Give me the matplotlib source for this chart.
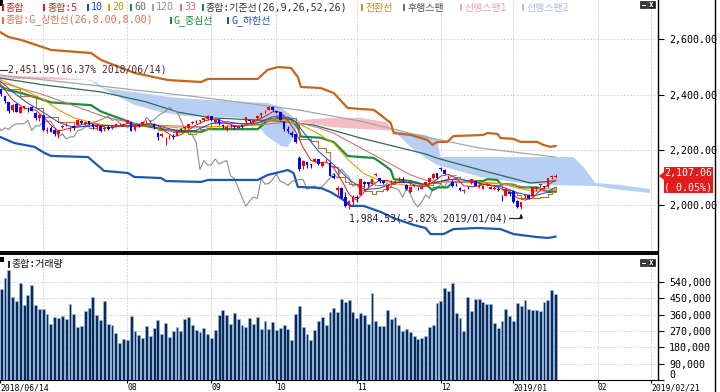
import numpy as np
import matplotlib.pyplot as plt
from matplotlib.patches import Rectangle, Polygon
from matplotlib.ticker import FuncFormatter

plt.rcParams['font.family'] = ['DejaVu Sans Mono', 'Noto Sans CJK KR']

# ---- daily bars 2018/06/14 .. 2019/01/17 (KOSPI) ----
opens = [2451, 2421, 2395, 2373, 2345, 2367, 2335, 2350, 2352, 2355, 2333, 2315,
         2325, 2270, 2279, 2271, 2257, 2282, 2290, 2275, 2285, 2290, 2306, 2295, 2304, 2292, 2282, 2286, 2275, 2283, 2281, 2289, 2293, 2288,
         2298, 2300, 2273, 2290, 2292, 2303, 2305, 2293, 2260, 2252, 2238, 2245, 2249, 2250, 2275, 2279, 2281, 2298, 2306, 2303, 2307, 2311,
         2322, 2302, 2309, 2289, 2277, 2286, 2288, 2278, 2290, 2300, 2309, 2301, 2314, 2326, 2337, 2344, 2356,
         2342, 2337, 2300, 2277, 2260, 2258, 2171, 2141, 2156, 2149, 2158, 2168, 2140, 2160, 2153, 2106, 2054, 2062, 2030, 2005, 2012,
         2031, 2037, 2084, 2083, 2078, 2110, 2097, 2086, 2054, 2086, 2080, 2093, 2096, 2072, 2048, 2070, 2060, 2060, 2073, 2084, 2098, 2117,
         2136, 2128, 2100, 2085, 2076, 2063, 2052, 2063, 2080, 2086, 2067, 2058, 2075, 2060, 2060, 2058, 2030, 2033, 2046,
         2050, 2013, 1993, 2034, 2037, 2034, 2060, 2072, 2068, 2065, 2100, 2101]
highs = [2451.95, 2425, 2397, 2374, 2366, 2369, 2360, 2360, 2356, 2358, 2337, 2330,
         2326, 2283, 2287, 2275, 2273, 2289, 2296, 2283, 2290, 2312, 2307, 2302, 2306, 2295, 2293, 2287, 2285, 2289, 2291, 2298, 2297, 2298,
         2310, 2302, 2290, 2294, 2305, 2308, 2308, 2296, 2266, 2262, 2246, 2253, 2256, 2272, 2280, 2285, 2295, 2303, 2310, 2309, 2316, 2325,
         2324, 2313, 2312, 2295, 2290, 2292, 2290, 2290, 2291, 2320, 2310, 2311, 2326, 2333, 2344, 2358, 2358,
         2346, 2338, 2305, 2286, 2268, 2262, 2178, 2164, 2157, 2150, 2172, 2168, 2157, 2168, 2155, 2117, 2069, 2066, 2048, 2017, 2036,
         2035, 2096, 2087, 2084, 2095, 2117, 2097, 2092, 2073, 2090, 2092, 2100, 2100, 2075, 2067, 2073, 2067, 2070, 2084, 2098, 2115, 2118,
         2137, 2130, 2110, 2090, 2080, 2065, 2060, 2068, 2096, 2088, 2075, 2072, 2080, 2068, 2068, 2064, 2037, 2061, 2047,
         2054, 2017, 2011, 2040, 2040, 2064, 2065, 2076, 2070, 2097, 2108, 2111]
lows = [2419, 2397, 2370, 2335, 2337, 2336, 2333, 2347, 2339, 2340, 2310, 2305,
        2270, 2262, 2264, 2252, 2244, 2278, 2285, 2270, 2273, 2289, 2295, 2290, 2290, 2276, 2272, 2265, 2268, 2271, 2276, 2285, 2286, 2285,
        2297, 2269, 2270, 2284, 2290, 2297, 2300, 2277, 2234, 2246, 2218, 2240, 2240, 2249, 2268, 2275, 2280, 2295, 2299, 2297, 2305, 2309,
        2306, 2297, 2290, 2281, 2270, 2278, 2275, 2274, 2279, 2298, 2298, 2299, 2310, 2318, 2334, 2343, 2340,
        2332, 2308, 2270, 2261, 2248, 2224, 2123, 2131, 2136, 2134, 2155, 2145, 2138, 2155, 2104, 2096, 2033, 2025, 1994, 1986, 2000,
        2010, 2036, 2066, 2068, 2074, 2105, 2080, 2077, 2052, 2080, 2075, 2086, 2084, 2055, 2045, 2064, 2055, 2058, 2071, 2080, 2094, 2096,
        2122, 2111, 2095, 2064, 2068, 2050, 2045, 2058, 2078, 2068, 2063, 2057, 2068, 2057, 2055, 2050, 2013, 2032, 2033,
        2007, 1991, 1984.53, 2026, 2023, 2033, 2052, 2064, 2061, 2064, 2095, 2098]
closes = [2423, 2404, 2376, 2340, 2363, 2337, 2357, 2358, 2350, 2342, 2314, 2326,
          2272, 2272, 2265, 2257, 2272, 2285, 2294, 2280, 2280, 2310, 2298, 2300, 2294, 2283, 2289, 2270, 2280, 2274, 2289, 2294, 2294, 2295,
          2307, 2270, 2287, 2287, 2301, 2303, 2304, 2282, 2248, 2258, 2240, 2247, 2247, 2270, 2273, 2283, 2293, 2300, 2303, 2309, 2315, 2322,
          2307, 2310, 2297, 2287, 2282, 2287, 2282, 2286, 2286, 2318, 2303, 2309, 2323, 2332, 2339, 2355, 2343,
          2338, 2309, 2274, 2267, 2253, 2228, 2129, 2161, 2145, 2146, 2167, 2148, 2156, 2161, 2106, 2097, 2063, 2027, 1996, 2014, 2029,
          2024, 2096, 2076, 2078, 2093, 2113, 2086, 2081, 2071, 2086, 2088, 2093, 2092, 2057, 2065, 2070, 2057, 2067, 2083, 2098, 2114, 2097,
          2131, 2114, 2101, 2068, 2075, 2053, 2052, 2062, 2095, 2070, 2071, 2070, 2078, 2066, 2061, 2055, 2028, 2060, 2041,
          2010, 1993, 2011, 2037, 2025, 2064, 2063, 2075, 2064, 2097, 2106, 2107.06]
volume_k = [520,
            504, 563, 604, 458, 436, 537, 415, 471, 522, 415, 393, 393, 365, 310, 347, 343, 351, 338, 421, 365,
            292, 297, 378, 397, 458, 356, 332, 436, 308, 301, 260, 205, 227, 223, 353, 271, 249, 233, 297, 245,
            288, 332, 255, 312, 236, 270, 292, 270, 338, 347, 306, 277, 264, 286, 255, 231, 277, 360, 384, 360,
            310, 371, 338, 305, 292, 342, 308, 347, 282, 325, 279, 320, 277, 286, 306, 279, 218, 365, 408, 294,
            255, 223, 277, 323, 349, 306, 375, 399, 375, 445, 430, 439, 375, 343, 369,
            360, 310, 482, 328, 297, 297, 384, 338, 347, 301, 270, 282, 264, 240, 227, 234, 240, 295, 306, 426,
            436, 508, 493, 537, 369, 343, 270, 456, 380, 447, 447, 430, 419, 419, 312, 288, 323, 393, 354, 328,
            426, 408, 439, 393, 384, 384, 378, 430, 441, 498, 476]

# ---- indicator lines (vertices, x in bars from 2018/07/02) ----
ma5_t = [-11.3, -8, -5, -2] + list(range(0, 135, 2))
ma5 = [2440, 2381, 2351, 2344,
       2321, 2290, 2268, 2275, 2282, 2292, 2296, 2293, 2283, 2280, 2286, 2296, 2291, 2290, 2296, 2288, 2266, 2248,
       2255, 2273, 2290, 2304, 2311, 2310, 2297, 2287, 2285, 2295, 2308, 2321, 2338, 2337, 2306, 2266, 2208, 2162,
       2153, 2156, 2134, 2091, 2039, 2018, 2048, 2073, 2089, 2089, 2082, 2086, 2079, 2068, 2068, 2084, 2105, 2111,
       2098, 2070, 2067, 2070, 2077, 2069, 2058, 2049, 2026, 2018, 2026, 2053, 2073, 2090]
ma10_t = [-11.3, -8, -4, 0, 4, 8, 12, 16, 20, 24, 28, 32, 36, 40, 44, 48, 52, 56, 60, 64, 66, 68, 72, 76,
          80, 84, 88, 92, 96, 100, 104, 108, 112, 116, 120, 124, 128, 132, 134]
ma10 = [2450, 2410, 2369, 2336, 2300, 2281, 2287, 2289, 2287, 2287, 2295, 2280, 2266, 2271, 2296, 2302, 2294,
        2297, 2320, 2318, 2302, 2265, 2195, 2146, 2092, 2056, 2061, 2082, 2082, 2075, 2086, 2096, 2086, 2073,
        2066, 2045, 2032, 2047, 2065]
ma20_t = [-11.3, -4, 0, 4, 8, 12, 16, 20, 24, 28, 32, 36, 40, 44, 48, 52, 56, 60, 64, 68, 72, 76, 80, 84,
          88, 92, 96, 100, 104, 108, 112, 116, 120, 124, 128, 132, 134]
ma20 = [2455, 2410, 2383, 2345, 2316, 2302, 2290, 2286, 2288, 2291, 2284, 2279, 2280, 2285, 2285, 2289, 2298,
        2309, 2307, 2287, 2258, 2224, 2161, 2113, 2090, 2078, 2070, 2073, 2084, 2087, 2083, 2082, 2078, 2062,
        2051, 2051, 2055]
ma33_t = [-11.3, 0, 8, 16, 24, 32, 40, 48, 56, 64, 68, 72, 76, 80, 84, 88, 92, 96, 100, 104, 110, 116, 122, 128, 134]
ma33 = [2445, 2400, 2360, 2320, 2295, 2288, 2284, 2284, 2290, 2300, 2295, 2280, 2260, 2230, 2200, 2170, 2140,
        2110, 2090, 2084, 2082, 2080, 2075, 2060, 2058]
ma60_t = [-11.3, 0.3, 15.1, 26.9, 35.2, 43.9, 60.8, 70.8, 83, 100, 103, 114.4, 127.4, 134]
ma60 = [2460, 2435, 2410, 2374, 2337, 2316, 2305, 2290, 2243, 2185, 2170, 2127, 2080, 2088]
ma120_t = [-11.3, 15, 41, 67, 83, 99, 114, 134]
ma120 = [2471, 2431, 2391, 2344, 2304, 2250, 2207, 2174]
tenkan_t = [-11.3, -6, -2, 0, 4, 8, 12, 14, 18, 22, 26, 30, 34, 38, 40, 41, 44, 48, 52, 54, 57, 59, 61, 63, 66,
            67, 70, 72, 74, 75, 76, 77, 79, 80, 83, 84, 86, 87, 89, 90, 91, 92, 96, 102, 104, 105, 108, 109, 110,
            113, 114, 116, 119, 120, 122, 123, 124, 125, 129, 130, 132, 133, 134]
tenkan = [2420, 2395, 2353, 2320, 2301, 2285, 2278, 2291, 2286, 2288, 2290, 2272, 2263, 2257, 2264, 2275, 2297,
          2298, 2297, 2295, 2304, 2316, 2328, 2314, 2291, 2241, 2231, 2205, 2193, 2141, 2137, 2103, 2083, 2077,
          2070, 2051, 2041, 2051, 2059, 2064, 2077, 2085, 2073, 2081, 2091, 2096, 2100, 2093, 2091, 2088, 2078,
          2071, 2073, 2055, 2047, 2044, 2036, 2026, 2025, 2030, 2041, 2046, 2067]
env_t = [-11.3, -9.1, -5.7, 2.1, 12.5, 15.1, 23.8, 32.6, 41.3, 43.1, 56.1, 58.7, 61.4, 64.8, 66.6, 67.4, 72.6,
         76, 79.6, 83, 86.4, 88.3, 90.9, 91.7, 96.1, 100.5, 101.8, 103.1, 105.7, 107.3, 115.1, 116.2, 118.8,
         119.6, 123, 124.8, 129.2, 130.8, 132.6, 134]
env_upper = [2627, 2609, 2598, 2562, 2551, 2526, 2479, 2453, 2446, 2457, 2457, 2490, 2500, 2497, 2464, 2428,
             2424, 2406, 2352, 2348, 2345, 2326, 2297, 2261, 2254, 2236, 2218, 2229, 2229, 2250, 2254, 2261,
             2258, 2243, 2240, 2229, 2229, 2218, 2211, 2214]
env_mid = [2432, 2416, 2406, 2372, 2362, 2339, 2295, 2271, 2265, 2275, 2275, 2306, 2315, 2312, 2281, 2248,
           2244, 2228, 2178, 2174, 2171, 2154, 2127, 2094, 2087, 2070, 2054, 2064, 2064, 2083, 2087, 2094,
           2091, 2077, 2074, 2064, 2064, 2054, 2047, 2050]
low_t = [-11.3, -7.6, -2.3, 0.3, 2.1, 11.7, 15.1, 15.9, 22.2, 23.8, 30.8, 32.1, 41.3, 43.1, 56.1, 58.7, 64,
         65.5, 66.6, 72.6, 75.2, 78.6, 80.4, 83.8, 88.3, 91.6, 96.9, 100, 101.3, 104.7, 107.3, 113.6, 119.6,
         123, 129.2, 131.9, 133.4, 134]
env_lower = [2247, 2225, 2211, 2189, 2178, 2174, 2134, 2124, 2116, 2102, 2098, 2087, 2084, 2091, 2091, 2109,
             2127, 2116, 2066, 2062, 2047, 2018, 1997, 1997, 1975, 1953, 1928, 1917, 1895, 1895, 1913, 1917,
             1913, 1895, 1884, 1881, 1884, 1886]
cloud_t = [-11.3, 2, 11, 12.5, 14.4, 15.1, 15.9, 17.8, 23.8, 30.8, 32.6, 36.8, 43.1, 51.7, 55.6, 58.2, 58.7,
           62.1, 64, 64.8, 65.5, 67.4, 75.2, 83, 89.6, 91.6, 96.1, 100, 103.1, 103.9, 114.4, 124.8, 133.4,
           138.6, 141.3, 144.4, 150.9, 158.7]
span1 = [2468, 2464, 2454, 2450, 2432, 2426, 2420, 2406, 2363, 2337, 2333, 2323, 2320, 2316, 2297, 2254, 2248,
         2214, 2211, 2232, 2254, 2308, 2316, 2316, 2301, 2269, 2211, 2171, 2145, 2142, 2102, 2080, 2073, 2071,
         2070, 2069, 2055, 2044]
span2 = [2457, 2455, 2453, 2453, 2440, 2432, 2424, 2420, 2410, 2396, 2392, 2387, 2381, 2375, 2372, 2370, 2370,
         2355, 2335, 2326, 2318, 2301, 2283, 2276, 2271, 2269, 2261, 2254, 2236, 2174, 2174, 2174, 2174, 2174,
         2138, 2080, 2073, 2058]

month_pos = [0, 22, 44, 61, 82, 104, 123, 145, 159]
tick_pos = [-11.2, 22, 44, 61, 82, 104, 123, 145, 159]
tick_lbl = ['2018/06/14', '08', '09', '10', '11', '12', '2019/01', '02', '2019/02/21']

W, H = 720, 392
def fx(px):
    return px / W
def fy(py):
    return 1 - py / H

t = np.arange(-12, 135)
o = np.array(opens); c = np.array(closes); hi = np.array(highs); lo = np.array(lows)

fig = plt.figure(figsize=(7.2, 3.92), dpi=100)
ax = fig.add_axes([0, fy(252), fx(658), 252 / H])
axv = fig.add_axes([0, fy(380), fx(658), (380 - 254) / H])

grid_kw = dict(color='#C8C8C8', lw=0.6, ls=(0, (2, 2)), zorder=0)
for m in month_pos:
    ax.axvline(m, **grid_kw)
    axv.axvline(m, **grid_kw)
for p in [2000, 2200, 2400, 2600]:
    ax.axhline(p, **grid_kw)
for v in range(90000, 540001, 90000):
    axv.axhline(v, **grid_kw)

# ichimoku cloud
s1 = np.array(span1); s2 = np.array(span2)
ax.fill_between(cloud_t, s1, s2, where=s1 >= s2, interpolate=True, color='#F6BCC4', lw=0, zorder=1)
ax.fill_between(cloud_t, s1, s2, where=s1 < s2, interpolate=True, color='#B7CFF3', lw=0, zorder=1)

# lines
ax.plot(ma120_t, ma120, color='#A6A6A6', lw=0.9, zorder=2)
ax.plot(ma60_t, ma60, color='#2F6A55', lw=0.9, zorder=2)
ax.plot(t[:-26], closes[26:], color='#8C8C8C', lw=0.8, zorder=2)
ax.plot(env_t, env_upper, color='#C8641E', lw=1.6, zorder=3)
ax.plot(low_t, env_lower, color='#1F56B0', lw=1.6, zorder=3)
ax.plot(env_t, env_mid, color='#1E8C3C', lw=1.6, zorder=3)
ax.plot(ma33_t, ma33, color='#C87878', lw=0.8, zorder=4)
ax.plot(ma20_t, ma20, color='#E0A000', lw=0.8, zorder=4)
ax.plot(tenkan_t, tenkan, color='#B07A20', lw=0.8, drawstyle='steps-post', zorder=4)
ax.plot(ma10_t, ma10, color='#2040D0', lw=0.7, zorder=4)
ax.plot(ma5_t, ma5, color='#D02020', lw=0.7, zorder=4)

# candles
col = np.where(c >= o, '#FF0000', '#0000FF')
ax.vlines(t, lo, hi, colors=col, lw=0.8, zorder=6)
ax.bar(t, np.maximum(np.abs(c - o), 1.5), bottom=np.minimum(o, c), width=0.7, color=col, lw=0, zorder=7)

ax.set_xlim(-11.3, 160.8)
ax.set_ylim(1830, 2743)
ax.set_yticks([2000, 2200, 2400, 2600])
ax.yaxis.set_major_formatter(FuncFormatter(lambda v, p: '{:,.2f}'.format(v)))
ax.yaxis.tick_right()
ax.tick_params(axis='y', direction='out', length=4, pad=4, labelsize=7.2)
ax.tick_params(axis='x', bottom=False, labelbottom=False)
for s in ['left', 'top']:
    ax.spines[s].set_visible(False)
ax.spines['right'].set_linewidth(1.0)
ax.spines['bottom'].set_linewidth(1.4)

# annotations
ax.plot([-11.3, -9.5], [2490, 2490], color='#3A2A2A', lw=0.8, zorder=8)
ax.text(-9.2, 2490, '2,451.95(16.37% 2018/06/14)', fontsize=7, color='#4A2A2A', va='center', ha='left', zorder=8)
ax.text(121.6, 1953, '1,984.53(-5.82% 2019/01/04)', fontsize=7, color='#1A1A3A', va='center', ha='right', zorder=8)
ax.plot([121.9, 125], [1953, 1953], color='#1A1A3A', lw=0.8, zorder=8)
ax.annotate('', xy=(125, 1978), xytext=(125, 1953),
            arrowprops=dict(arrowstyle='-|>', color='#1A1A3A', lw=0.8, mutation_scale=5), zorder=8)

# volume
axv.bar(t, np.array(volume_k) * 1000, width=0.75, color='#0B2A58', edgecolor='#9CC2EC', lw=0.4, zorder=3)
axv.set_xlim(-11.3, 160.8)
axv.set_ylim(0, 695000)
axv.set_yticks(list(range(0, 540001, 90000)))
axv.yaxis.set_major_formatter(FuncFormatter(lambda v, p: '{:,.0f}'.format(v)))
axv.yaxis.tick_right()
axv.tick_params(axis='y', direction='out', length=4, pad=4, labelsize=7.2)
axv.get_yticklabels()[0].set_va('bottom')
axv.set_xticks(tick_pos)
axv.set_xticklabels(tick_lbl, ha='left')
axv.tick_params(axis='x', direction='out', length=2, pad=0.5, labelsize=5.8)
axv.spines['left'].set_visible(False)
axv.spines['top'].set_linewidth(1.4)
axv.spines['right'].set_linewidth(1.0)
axv.spines['bottom'].set_linewidth(0.8)

# legends (top of each panel)
def sq(x, y, color, w=2.4, h=7):
    fig.add_artist(Rectangle((fx(x), fy(y + h / 2)), w / W, h / H, transform=fig.transFigure,
                             color=color, lw=0, zorder=10))

def label(x, y, txt, color):
    fig.text(fx(x), fy(y), txt, fontsize=7.2, color=color, va='center', ha='left', zorder=10)

legend1 = [(1.5, '종합', '#C02020', '#B02020'), (43, '종합:5', '#C02020', '#D02020'),
           (87, '10', '#2040D0', '#2040D0'), (108, '20', '#C89000', '#E0A000'),
           (130, '60', '#4F7A66', '#1E8C3C'), (152, '120', '#909090', '#A6A6A6'),
           (180, '33', '#D86070', '#E07070'), (202, '종합:기준선(26,9,26,52,26)', '#303030', '#1E8C3C'),
           (361, '전환선', '#B88A20', '#C8961E'), (403, '후행스팬', '#505050', '#707070'),
           (460, '선행스팬1', '#E8A4AC', '#F0A8B0'), (522, '선행스팬2', '#A8BCE0', '#A8C0EC')]
for x, txt, tc, sc in legend1:
    sq(x, 7.5, sc)
    label(x + 4, 7.5, txt, tc)
legend2 = [(1.5, '종합:G_상한선(26,8.00,8.00)', '#D87050', '#E07040'), (170, 'G_중심선', '#1E8C3C', '#1E8C3C'),
           (227, 'G_하한선', '#2050C0', '#2050C0')]
for x, txt, tc, sc in legend2:
    sq(x, 20.5, sc)
    label(x + 4, 20.5, txt, tc)
fig.add_artist(Rectangle((0, fy(6)), 3 / W, 6 / H, transform=fig.transFigure, color='black', lw=0))
fig.add_artist(Rectangle((0, fy(262)), 4 / W, 5 / H, transform=fig.transFigure, color='black', lw=0))
sq(8, 264, '#0B2A58')
label(12, 264, '종합:거래량', '#101010')

# panel buttons
for y0 in [1, 259]:
    fig.add_artist(Rectangle((fx(640), fy(y0 + 7)), 7 / W, 7 / H, transform=fig.transFigure,
                             facecolor='#3A3A3A', edgecolor='#202020', lw=0.5))
    fig.add_artist(Rectangle((fx(641.5), fy(y0 + 5)), 4 / W, 1.2 / H, transform=fig.transFigure, color='white', lw=0))
    fig.add_artist(Rectangle((fx(648), fy(y0 + 7)), 7 / W, 7 / H, transform=fig.transFigure,
                             facecolor='#202020', edgecolor='#202020', lw=0.5))
    fig.text(fx(651.5), fy(y0 + 3.6), 'x', fontsize=5.5, color='white', ha='center', va='center', fontweight='bold')

# current price marker
fig.add_artist(Polygon([[fx(659), fy(176)], [fx(664), fy(172)], [fx(664), fy(180)]], closed=True,
                       transform=fig.transFigure, color='#E31B1B', lw=0))
fig.add_artist(Rectangle((fx(664), fy(193)), 49 / W, 26 / H, transform=fig.transFigure, color='#E31B1B', lw=0))
fig.text(fx(688.5), fy(173.5), '2,107.06', fontsize=7.2, color='white', ha='center', va='center')
fig.text(fx(688.5), fy(187), '( 0.05%)', fontsize=7.2, color='white', ha='center', va='center')

# outer frame line at the right
fig.add_artist(plt.Line2D([fx(714.5), fx(714.5)], [0, 1], transform=fig.transFigure, color='black', lw=1.0))

fig.savefig('out.png', dpi=100)
